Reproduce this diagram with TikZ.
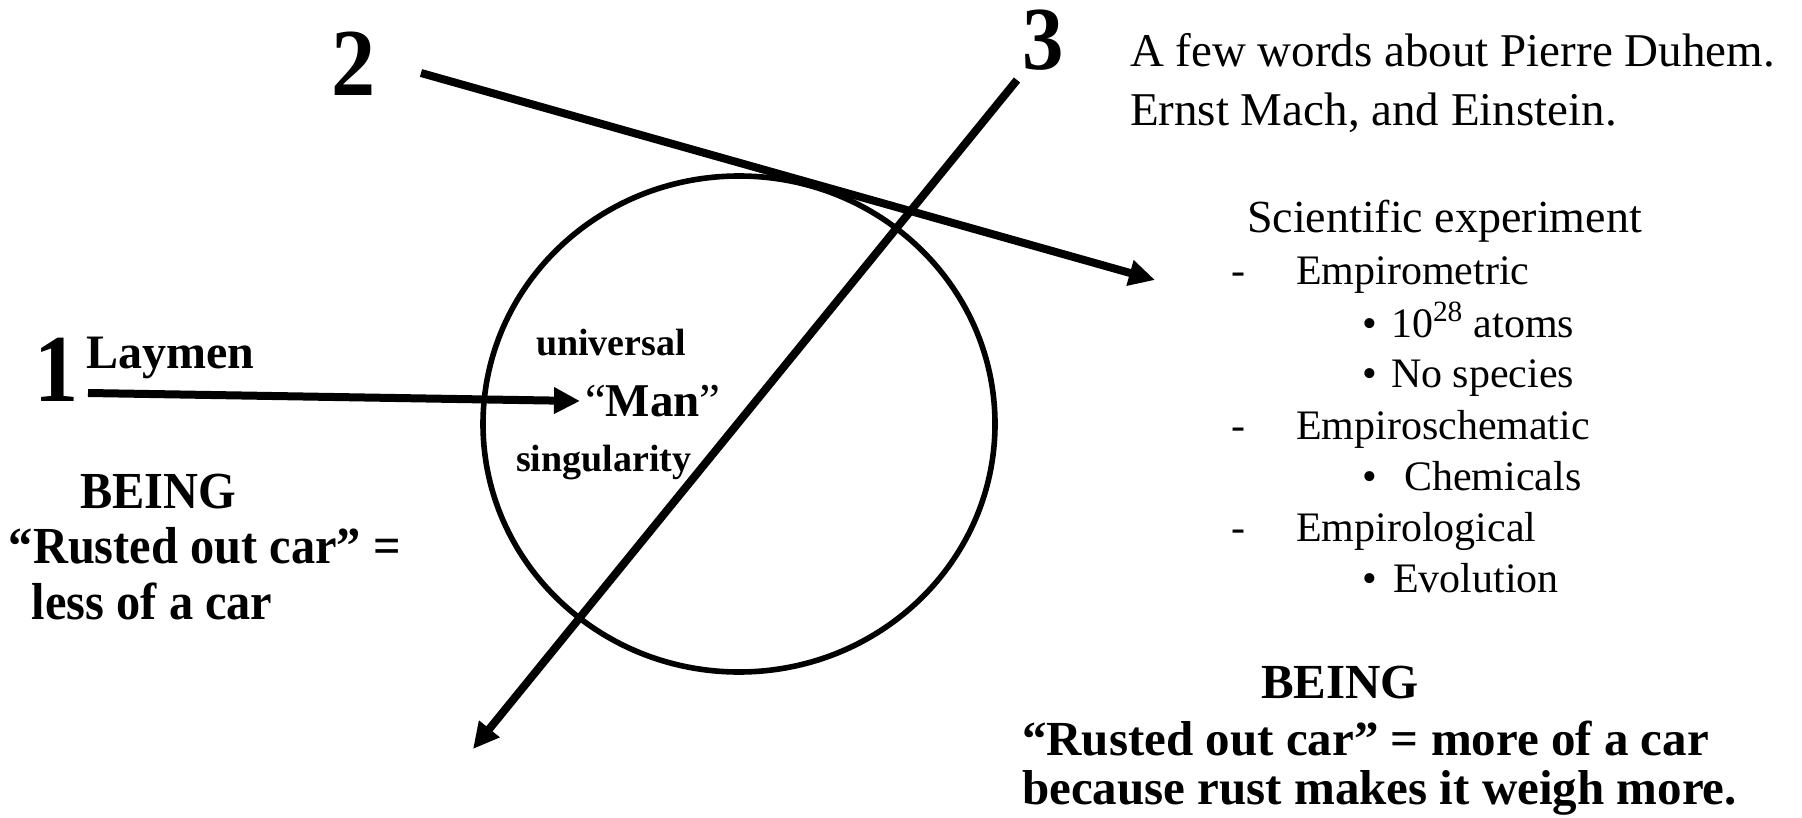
\documentclass[tikz,border=0pt]{standalone}
\usepackage{fontspec}
\setmainfont{Liberation Serif}
\newfontfamily\condserif[FakeStretch=0.93]{Liberation Serif}
\newfontfamily\digitserif[FakeStretch=0.92]{Liberation Serif}
\usetikzlibrary{arrows.meta,shapes.geometric}
\tikzset{
  txt/.style={anchor=base west, inner sep=0pt, outer sep=0pt},
  digit/.style={txt, text height=0.68em, text depth=0pt, font=\digitserif\bfseries\fontsize{48}{48}\selectfont},
  leftbold/.style={txt, font=\condserif\bfseries\fontsize{26}{26}\selectfont},
  rightbold/.style={txt, font=\bfseries\fontsize{24.5}{24.5}\selectfont},
  inner/.style={txt, font=\bfseries\fontsize{19}{19}\selectfont},
  listtxt/.style={txt, font=\fontsize{21}{21}\selectfont},
  toptxt/.style={txt, font=\fontsize{23.5}{23.5}\selectfont},
  thickarrow/.style={line width=4pt, -{Triangle[length=13pt,width=12.5pt]}},
}
\begin{document}
\begin{tikzpicture}[x=0.5pt,y=-0.5pt]
\useasboundingbox (0,0) rectangle (1802,818);
% circle
\node[draw, line width=2.8pt, ellipse, minimum width=256pt, minimum height=248pt, inner sep=0pt] (circ) at (739,424) {};
% digits
\node[digit] (n1) at (34,401) {1};
\node[digit] (n2) at (331,96) {2};
\node[digit, font=\digitserif\bfseries\fontsize{45}{45}\selectfont] (n3) at (1022,70) {3};
% coordinates
\coordinate (s1) at (88,393);
\coordinate (e1) at (580,401);
\coordinate (s2) at (421,73);
\coordinate (e2) at (1155,280);
\coordinate (s3) at (1017,80);
\coordinate (e3) at (473,749);
\draw[thickarrow] (s1) -- (e1);
\draw[thickarrow] (s2) -- (e2);
\draw[thickarrow] (s3) -- (e3);
% inner texts
\node[txt, font=\bfseries\fontsize{24}{24}\selectfont] (lay) at (86,368) {Laymen};
\node[inner] (univ) at (536,355) {universal};
\node[inner] (sing) at (516,471) {singularity};
\node[txt, font=\fontsize{23.5}{23.5}\selectfont] (man) at (585,416) {“\textbf{Man}”};
% left column
\node[leftbold] (lb1) at (80,508) {BEING};
\node[leftbold] (lb2) at (9,563) {“Rusted out car” =};
\node[leftbold] (lb3) at (32,619) {less of a car};
% top right
\node[toptxt] (t1) at (1130,67) {A few words about Pierre Duhem.};
\node[toptxt] (t2) at (1130,126) {Ernst Mach, and Einstein.};
% list
\node[txt, font=\fontsize{23}{23}\selectfont] (l0) at (1247,233) {Scientific experiment};
\node[listtxt] (d1) at (1231,285) {-};
\node[listtxt] (l1) at (1296,285) {Empirometric};
\node[listtxt] (b1) at (1362,337) {•};
\node[listtxt] (l2) at (1391,337) {10\textsuperscript{28} atoms};
\node[listtxt] (b2) at (1362,387) {•};
\node[listtxt] (l3) at (1391,387) {No species};
\node[listtxt] (d2) at (1231,439) {-};
\node[listtxt] (l4) at (1296,439) {Empiroschematic};
\node[listtxt] (b3) at (1362,490) {•};
\node[listtxt] (l5) at (1404,490) {Chemicals};
\node[listtxt] (d3) at (1231,541) {-};
\node[listtxt] (l6) at (1296,541) {Empirological};
\node[listtxt] (b4) at (1362,592) {•};
\node[listtxt] (l7) at (1393,592) {Evolution};
% bottom right
\node[rightbold] (rb1) at (1261,698) {BEING};
\node[rightbold] (rb2) at (1022,755) {“Rusted out car” = more of a car};
\node[rightbold] (rb3) at (1022,804) {because rust makes it weigh more.};
\end{tikzpicture}
\end{document}
